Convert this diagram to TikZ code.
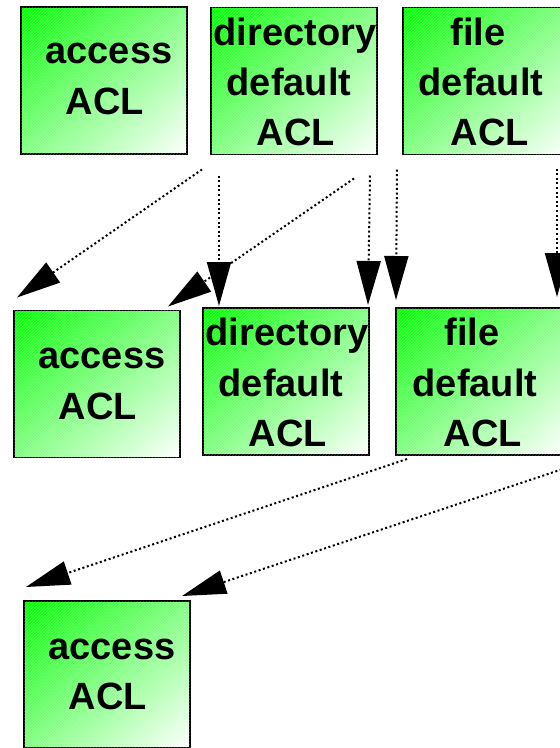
\documentclass[tikz,border=0pt]{standalone}
\usepackage{fontspec}
\setmainfont{Liberation Sans}
\usetikzlibrary{arrows.meta,calc,patterns}
\pgfdeclarefunctionalshading{aclshade}{\pgfpointorigin}{\pgfpoint{100bp}{100bp}}{}{
  sub 50 add 100 div
  dup 0 lt {pop 0} if
  dup 1 gt {pop 1} if
  dup 1 exch
}
\tikzset{
  aclbox/.style={draw=black, line width=1.6pt, minimum width=166pt, minimum height=147pt,
    inner sep=0pt, outer sep=0pt, shade, shading=aclshade, shading angle=0,
    postaction={pattern=north east lines, pattern color=white, opacity=0.25}},
  lbl/.style={anchor=base, inner sep=0pt, font=\fontsize{38}{44}\selectfont\bfseries},
  inherit/.style={line width=2pt, dash pattern=on 2pt off 2.6pt,
    -{Triangle[length=44pt,width=24pt]}}
}
\begin{document}
\begin{tikzpicture}[x=1pt,y=-1pt]
\clip (0,0) rectangle (560,748);
\fill[white] (0,0) rectangle (560,748);
% boxes
\node[aclbox] (a1) at (104,80.5) {};
\node[aclbox] (b1) at (294,81) {};
\node[aclbox] (c1) at (486,81) {};
\node[aclbox] (a2) at (97,384) {};
\node[aclbox] (b2) at (286,381.5) {};
\node[aclbox] (c2) at (479,381.5) {};
\node[aclbox] (a3) at (107,674.5) {};
% labels
\node[lbl] (a1x) at (109,63) {access};
\node[lbl] (a1y) at (105,114) {ACL};
\node[lbl] (b1x) at (295,45) {directory};
\node[lbl] (b1y) at (289,95) {default};
\node[lbl] (b1z) at (296,145) {ACL};
\node[lbl] (c1x) at (478,45) {file};
\node[lbl] (c1y) at (481,95) {default};
\node[lbl] (c1z) at (490,145) {ACL};
\node[lbl] (a2x) at (102,368) {access};
\node[lbl] (a2y) at (98,419) {ACL};
\node[lbl] (b2x) at (287,345) {directory};
\node[lbl] (b2y) at (281,396) {default};
\node[lbl] (b2z) at (288,446) {ACL};
\node[lbl] (c2x) at (472,345) {file};
\node[lbl] (c2y) at (475,396) {default};
\node[lbl] (c2z) at (483,446) {ACL};
\node[lbl] (a3x) at (112,659) {access};
\node[lbl] (a3y) at (108,709) {ACL};
% connectors
\draw[inherit] ($(b1.south west)+(-9,15)$) -- ($(a2.north west)+(3,-13)$);
\draw[inherit] ($(b1.south west)+(8,21)$) -- ($(b2.north west)+(16,-2)$);
\draw[inherit] ($(b1.south east)+(-23,24)$) -- ($(a2.north east)+(-12,-4)$);
\draw[inherit] ($(b1.south east)+(-7,21)$) -- ($(b2.north east)+(-1,-3)$);
\draw[inherit] ($(c1.south west)+(-6,15)$) -- ($(c2.north west)+(0,-8)$);
\draw[inherit] ($(c1.south west)+(154,14)$) -- ($(c2.north west)+(161,-11)$);
\draw[inherit] ($(c2.south west)+(11,4)$) -- ($(a3.north west)+(2,-14)$);
\draw[inherit] ($(c2.south west)+(170,13)$) -- ($(a3.north east)+(-8,-5)$);
\end{tikzpicture}
\end{document}
